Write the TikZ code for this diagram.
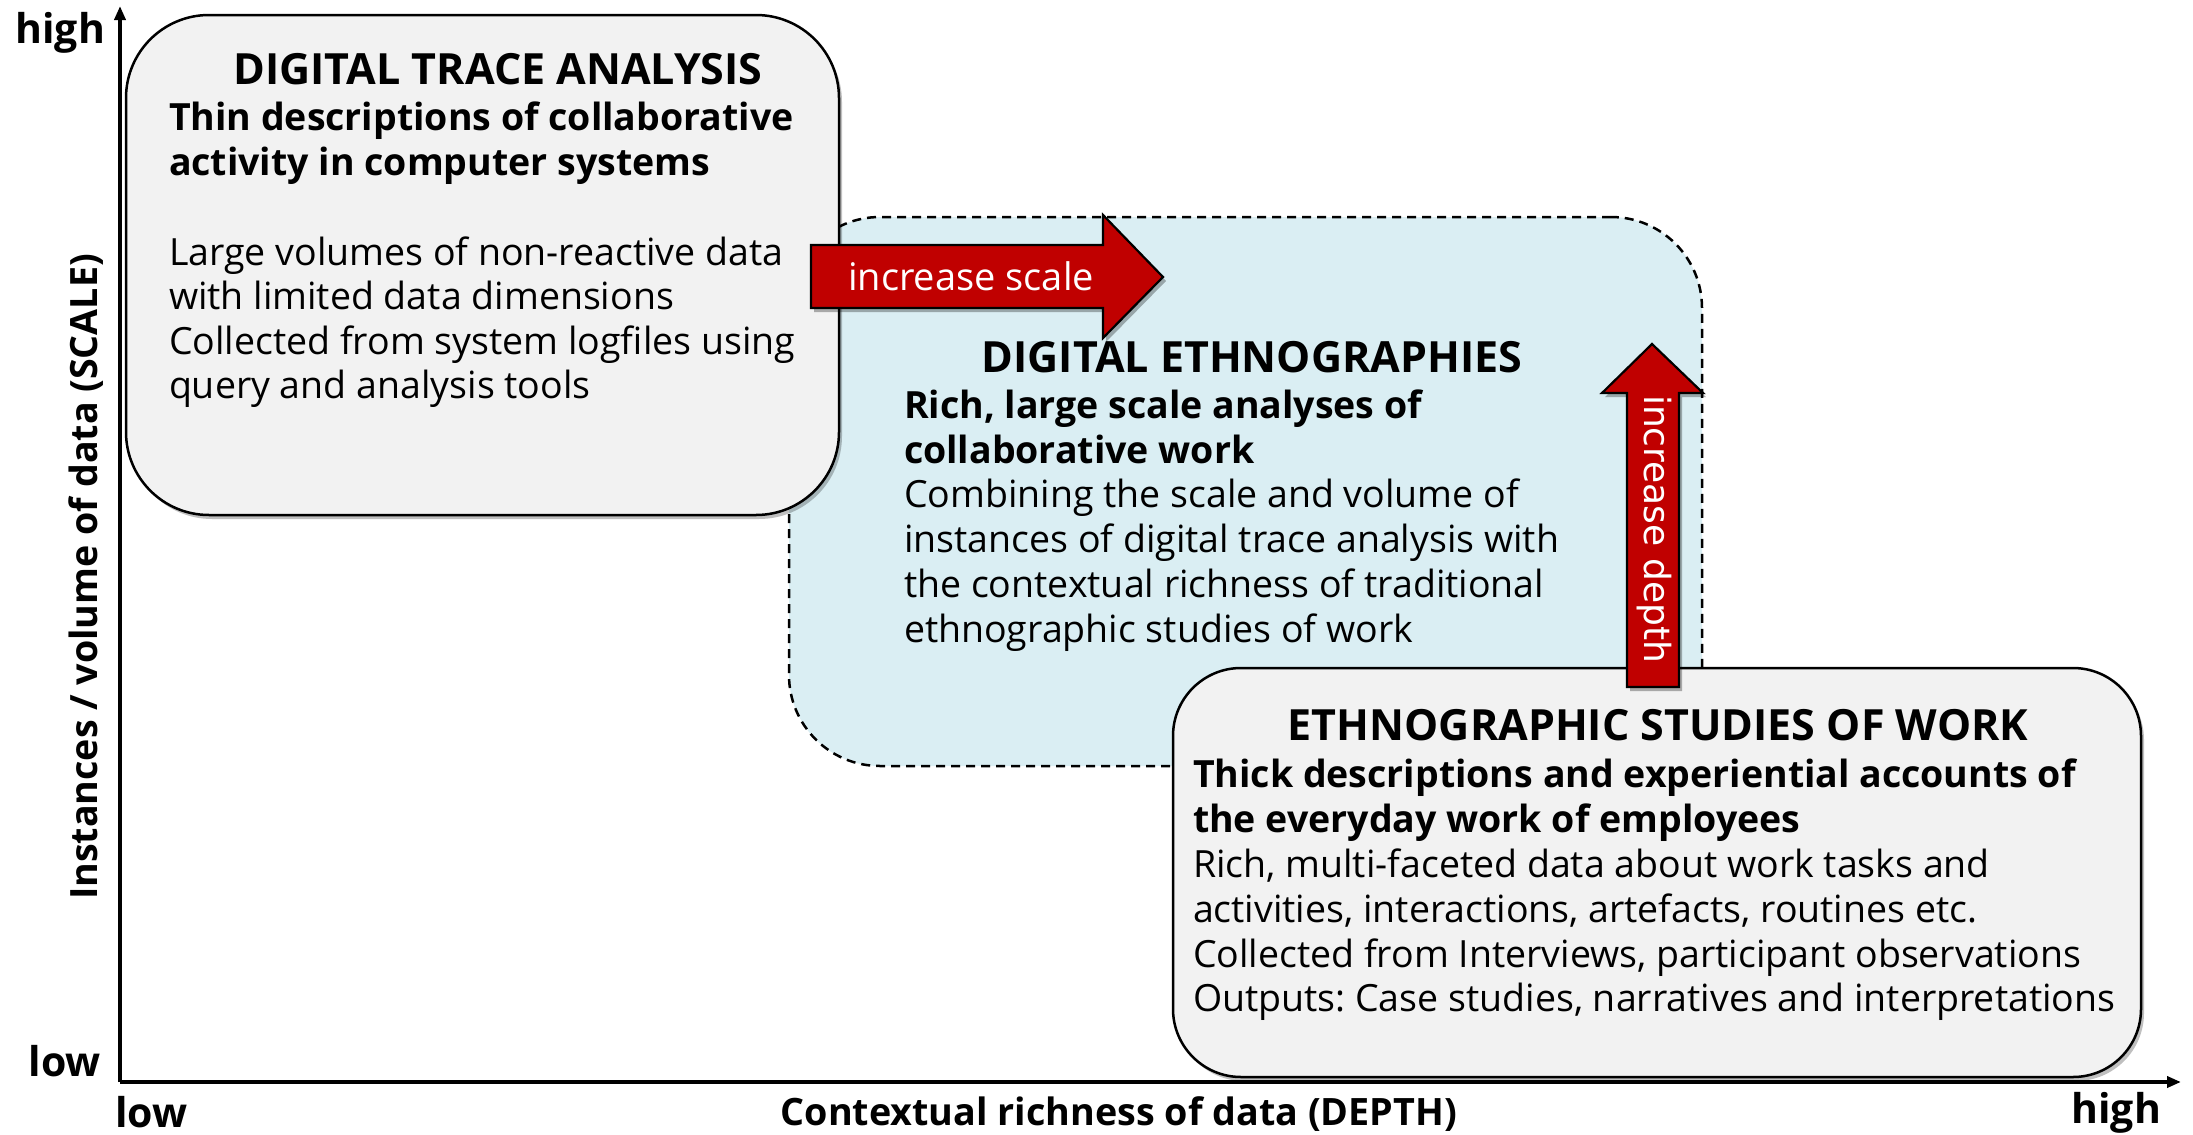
\documentclass[tikz,border=0pt]{standalone}
\usepackage{fontspec}
\setmainfont{Open Sans}
\newfontfamily\vfont{DejaVu Sans}
\usetikzlibrary{arrows.meta,shadows}
\definecolor{boxgray}{HTML}{F2F2F2}
\definecolor{boxblue}{HTML}{DAEEF3}
\definecolor{arrred}{HTML}{C00000}
\frenchspacing
\tikzset{
  panel/.style={draw=black, line width=2.5pt, fill=boxgray, inner sep=0pt, outer sep=0pt, anchor=north west},
  softshadow/.style={drop shadow={shadow xshift=3pt, shadow yshift=-4pt, opacity=0.25, fill=black}},
  redarrow/.style={fill=arrred, draw=black, line width=2.2pt, line join=miter,
    drop shadow={shadow xshift=3pt, shadow yshift=-4pt, opacity=0.3, fill=black}},
  txt/.style={anchor=base west, inner sep=0pt, outer sep=0pt, font=\fontsize{37.5}{44}\selectfont},
  btxt/.style={anchor=base west, inner sep=0pt, outer sep=0pt, font=\bfseries\fontsize{37.5}{44}\selectfont},
  ttl/.style={anchor=base, inner sep=0pt, outer sep=0pt, font=\bfseries\fontsize{43}{50}\selectfont},
  axlab/.style={inner sep=0pt, outer sep=0pt, font=\bfseries\fontsize{41}{48}\selectfont},
  axis/.style={line width=3.5pt, -{Triangle[length=14pt,width=11pt]}},
}
\begin{document}
\begin{tikzpicture}[x=1pt,y=-1pt]
\useasboundingbox (0,0) rectangle (2193,1135);
\fill[white] (0,0) rectangle (2193,1135);

% panels
\node[panel, fill=boxblue, dashed, dash pattern=on 9pt off 6pt, rounded corners=91pt,
      minimum width=913pt, minimum height=549pt] (de) at (789,217) {};
\node[panel, softshadow, rounded corners=83pt, minimum width=713pt, minimum height=500pt] (dta) at (126,15) {};
\node[panel, softshadow, rounded corners=68pt, minimum width=968pt, minimum height=409pt] (esw) at (1173,668) {};

% axes
\coordinate (O) at (120,1082);
\coordinate (Ytop) at (120,6);
\coordinate (Xend) at (2181,1082);
\draw[axis] (O) -- (Ytop);
\draw[axis] (O) -- (Xend);

% red arrows
\draw[redarrow] (811,245) -- (1103,245) -- (1103,215) -- (1163,277) -- (1103,338) -- (1103,308) -- (811,308) -- cycle;
\node[anchor=base west, inner sep=0pt, text=white, font=\fontsize{38}{44}\selectfont] (scl) at (848,290) {increase scale};
\draw[redarrow] (1627,687) -- (1627,393) -- (1602,393) -- (1652,344) -- (1703,393) -- (1679,393) -- (1679,687) -- cycle;
\node[rotate=-90, inner sep=0pt, text=white, font=\vfont\fontsize{36}{42}\selectfont] (dep) at (1654,529) {increase depth};

% panel 1 text
\node[ttl] (t1) at (498,84) {DIGITAL TRACE ANALYSIS};
\node[btxt] (s1a) at (169,130) {Thin descriptions of collaborative};
\node[btxt] (s1b) at (169,175) {activity in computer systems};
\node[txt] (b1a) at (169,265) {Large volumes of non-reactive data};
\node[txt] (b1b) at (169,309.5) {with limited data dimensions};
\node[txt] (b1c) at (169,354) {Collected from system logfiles using};
\node[txt] (b1d) at (169,398.5) {query and analysis tools};

% panel 2 text
\node[ttl] (t2) at (1252,372) {DIGITAL ETHNOGRAPHIES};
\node[btxt] (s2a) at (904,418) {Rich, large scale analyses of};
\node[btxt] (s2b) at (904,463) {collaborative work};
\node[txt] (b2a) at (904,507) {Combining the scale and volume of};
\node[txt] (b2b) at (904,552) {instances of digital trace analysis with};
\node[txt] (b2c) at (904,597) {the contextual richness of traditional};
\node[txt] (b2d) at (904,642) {ethnographic studies of work};

% panel 3 text
\node[ttl] (t3) at (1658,740) {ETHNOGRAPHIC STUDIES OF WORK};
\node[btxt] (s3a) at (1193,787) {Thick descriptions and experiential accounts of};
\node[btxt] (s3b) at (1193,832) {the everyday work of employees};
\node[txt] (b3a) at (1193,877) {Rich, multi-faceted data about work tasks and};
\node[txt] (b3b) at (1193,922) {activities, interactions, artefacts, routines etc.};
\node[txt] (b3c) at (1193,967) {Collected from Interviews, participant observations};
\node[txt] (b3d) at (1193,1011) {Outputs: Case studies, narratives and interpretations};

% axis labels
\node[axlab, anchor=base east] (yhigh) at (105,43) {high};
\node[axlab, anchor=base east] (ylow) at (101,1076) {low};
\node[axlab, anchor=base west] (xlow) at (115,1127) {low};
\node[axlab, anchor=base east] (xhigh) at (2161,1123) {high};
\node[anchor=base, inner sep=0pt, font=\bfseries\fontsize{37.7}{44}\selectfont] (xlab) at (1119,1125) {Contextual richness of data (DEPTH)};
\node[rotate=90, inner sep=0pt, font=\bfseries\fontsize{37.6}{44}\selectfont] (ylab) at (86,577) {Instances / volume of data (SCALE)};
\end{tikzpicture}
\end{document}
